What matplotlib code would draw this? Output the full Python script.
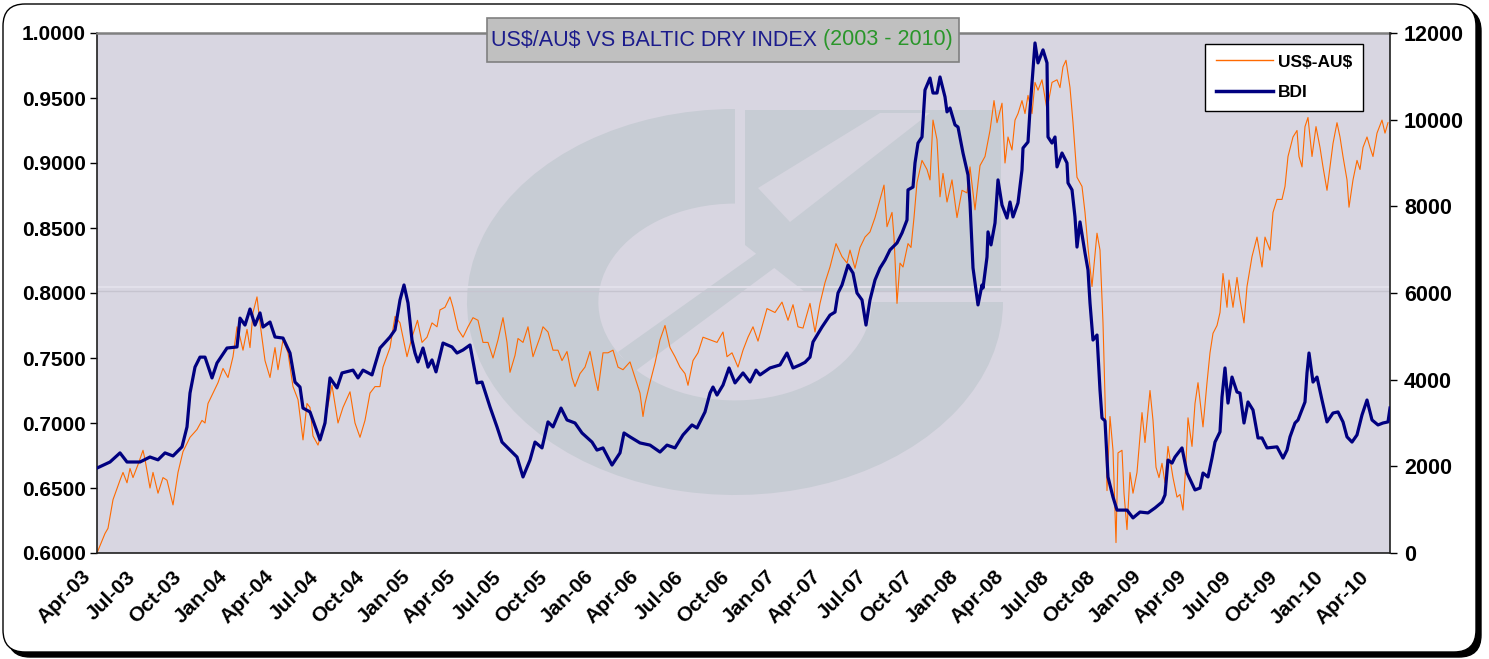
"""
US$/AU$ against the Baltic Dry Index, Apr 2003 - Apr 2010.

Dual-axis line chart: exchange rate on the left axis, BDI on the right.
Writes out.png (1489x659).
"""
import matplotlib

matplotlib.use("Agg")
import matplotlib.pyplot as plt  # noqa: E402
import matplotlib.dates as mdates  # noqa: E402
import pandas as pd  # noqa: E402
from matplotlib.lines import Line2D  # noqa: E402
from matplotlib.patches import FancyBboxPatch, Polygon, Rectangle, Wedge  # noqa: E402
from matplotlib.ticker import FixedLocator, FuncFormatter  # noqa: E402
from matplotlib.transforms import Affine2D, IdentityTransform, ScaledTranslation  # noqa: E402

# ---------------------------------------------------------------- data
BDI_DATES = [
    "2003-04-01", "2003-04-27", "2003-05-17", "2003-05-31", "2003-06-26", "2003-07-16",
    "2003-08-01", "2003-08-15", "2003-08-31", "2003-09-18", "2003-09-28", "2003-10-04",
    "2003-10-14", "2003-10-24", "2003-11-03", "2003-11-17", "2003-11-27", "2003-12-17",
    "2004-01-06", "2004-01-12", "2004-01-22", "2004-02-01", "2004-02-11", "2004-02-21",
    "2004-02-27", "2004-03-12", "2004-03-22", "2004-04-07", "2004-04-21", "2004-05-01",
    "2004-05-11", "2004-05-17", "2004-05-31", "2004-06-20", "2004-06-30", "2004-07-10",
    "2004-07-24", "2004-08-03", "2004-08-25", "2004-09-04", "2004-09-14", "2004-10-02",
    "2004-10-18", "2004-11-07", "2004-11-17", "2004-11-27", "2004-12-05", "2004-12-13",
    "2004-12-21", "2004-12-27", "2005-01-02", "2005-01-12", "2005-01-22", "2005-01-30",
    "2005-02-07", "2005-02-21", "2005-03-11", "2005-03-21", "2005-04-02", "2005-04-16",
    "2005-04-30", "2005-05-10", "2005-05-26", "2005-06-09", "2005-06-19", "2005-07-05",
    "2005-07-19", "2005-07-31", "2005-08-14", "2005-08-24", "2005-09-07", "2005-09-19",
    "2005-09-29", "2005-10-15", "2005-10-27", "2005-11-12", "2005-11-26", "2005-12-16",
    "2005-12-26", "2006-01-07", "2006-01-25", "2006-02-10", "2006-02-18", "2006-03-02",
    "2006-03-22", "2006-04-11", "2006-05-01", "2006-05-15", "2006-05-31", "2006-06-16",
    "2006-07-04", "2006-07-14", "2006-07-30", "2006-08-09", "2006-08-15", "2006-08-23",
    "2006-09-04", "2006-09-16", "2006-09-28", "2006-10-14", "2006-10-28", "2006-11-09",
    "2006-11-17", "2006-12-07", "2006-12-27", "2007-01-10", "2007-01-22", "2007-02-05",
    "2007-02-15", "2007-02-25", "2007-03-03", "2007-03-21", "2007-04-06", "2007-04-16",
    "2007-04-22", "2007-04-30", "2007-05-12", "2007-05-22", "2007-05-30", "2007-06-09",
    "2007-06-17", "2007-06-25", "2007-07-05", "2007-07-15", "2007-07-25", "2007-08-04",
    "2007-08-18", "2007-08-28", "2007-09-07", "2007-09-09", "2007-09-19", "2007-09-23",
    "2007-09-29", "2007-10-07", "2007-10-13", "2007-10-23", "2007-10-29", "2007-11-06",
    "2007-11-12", "2007-11-22", "2007-11-26", "2007-12-02", "2007-12-12", "2007-12-18",
    "2007-12-28", "2008-01-07", "2008-01-11", "2008-01-17", "2008-01-27", "2008-02-04",
    "2008-02-06", "2008-02-14", "2008-02-16", "2008-02-22", "2008-03-01", "2008-03-07",
    "2008-03-15", "2008-03-25", "2008-03-31", "2008-04-06", "2008-04-16", "2008-04-24",
    "2008-04-26", "2008-05-06", "2008-05-10", "2008-05-16", "2008-05-20", "2008-05-26",
    "2008-06-05", "2008-06-13", "2008-06-15", "2008-06-23", "2008-06-29", "2008-07-03",
    "2008-07-13", "2008-07-23", "2008-07-25", "2008-08-02", "2008-08-08", "2008-08-12",
    "2008-08-18", "2008-08-28", "2008-09-03", "2008-09-07", "2008-09-13", "2008-09-21",
    "2008-09-27", "2008-10-01", "2008-10-07", "2008-10-13", "2008-10-23", "2008-10-31",
    "2008-11-20", "2008-12-02", "2008-12-16", "2009-01-01", "2009-01-15", "2009-01-29",
    "2009-02-04", "2009-02-10", "2009-02-18", "2009-02-24", "2009-03-10", "2009-03-20",
    "2009-04-05", "2009-04-15", "2009-04-21", "2009-05-01", "2009-05-09", "2009-05-15",
    "2009-05-25", "2009-05-29", "2009-06-04", "2009-06-10", "2009-06-18", "2009-06-28",
    "2009-07-04", "2009-07-12", "2009-07-20", "2009-07-30", "2009-08-09", "2009-08-17",
    "2009-08-27", "2009-09-16", "2009-09-28", "2009-10-06", "2009-10-12", "2009-10-22",
    "2009-10-28", "2009-11-11", "2009-11-15", "2009-11-19", "2009-11-27", "2009-12-05",
    "2009-12-15", "2009-12-25", "2010-01-06", "2010-01-16", "2010-01-26", "2010-02-03",
    "2010-02-13", "2010-02-23", "2010-03-05", "2010-03-15", "2010-03-25", "2010-04-06",
    "2010-04-16", "2010-04-26", "2010-04-30",
]
BDI_VALUES = [
    1960, 2100, 2310, 2100, 2100, 2215,
    2150, 2310, 2240, 2450, 2910, 3690,
    4290, 4520, 4520, 4040, 4385, 4730,
    4755, 5420, 5260, 5630, 5260, 5540,
    5215, 5330, 4985, 4960, 4615, 3945,
    3830, 3345, 3255, 2610, 3000, 4040,
    3810, 4155, 4220, 4040, 4220, 4110,
    4730, 4985, 5150, 5840, 6185, 5770,
    4915, 4615, 4410, 4730, 4290, 4455,
    4180, 4845, 4755, 4615, 4685, 4800,
    3925, 3945, 3370, 2910, 2560, 2375,
    2215, 1755, 2145, 2560, 2425, 3025,
    2910, 3345, 3070, 3000, 2770, 2560,
    2375, 2425, 2030, 2310, 2770, 2680,
    2540, 2490, 2330, 2490, 2425, 2725,
    2955, 2885, 3255, 3690, 3830, 3645,
    3875, 4270, 3925, 4155, 3945, 4220,
    4110, 4270, 4340, 4615, 4270, 4340,
    4400, 4520, 4870, 5215, 5490, 5560,
    6000, 6185, 6645, 6460, 6000, 5840,
    5260, 5840, 6300, 6575, 6760, 6995,
    7155, 7385, 7685, 8380, 8445, 9000,
    9460, 9600, 10685, 10960, 10615, 10615,
    10985, 10525, 10180, 10270, 9880, 9830,
    9230, 8725, 8080, 6580, 5725, 6185,
    6115, 6830, 7410, 7110, 7615, 8610,
    8030, 7730, 8100, 7755, 8080, 8840,
    9345, 9485, 10225, 11150, 11770, 11310,
    11610, 11310, 9600, 9460, 9600, 8910,
    9230, 9000, 8540, 8380, 7755, 7060,
    7640, 6925, 6530, 5770, 4915, 5030,
    3760, 3115, 3050, 1755, 1290, 990,
    990, 810, 945, 925, 1040, 1175,
    1340, 2145, 2075, 2215, 2425, 1850,
    1455, 1500, 1845, 1755, 2190, 2560,
    2795, 3600, 4270, 3460, 4060, 3715,
    3690, 3000, 3485, 3300, 2655, 2655,
    2425, 2450, 2190, 2375, 2680, 3000,
    3070, 3485, 4155, 4615, 3945, 4060,
    3530, 3025, 3230, 3255, 3025, 2680,
    2560, 2725, 3185, 3530, 3070, 2955,
    3000, 3025, 3345,
]

AUD_DATES = [
    "2003-04-01", "2003-04-17", "2003-04-23", "2003-05-03", "2003-05-17", "2003-05-23",
    "2003-05-31", "2003-06-06", "2003-06-12", "2003-06-22", "2003-07-02", "2003-07-06",
    "2003-07-16", "2003-07-22", "2003-08-01", "2003-08-11", "2003-08-19", "2003-08-31",
    "2003-09-10", "2003-09-20", "2003-10-04", "2003-10-18", "2003-10-28", "2003-11-03",
    "2003-11-09", "2003-11-19", "2003-11-29", "2003-12-09", "2003-12-19", "2003-12-29",
    "2004-01-06", "2004-01-12", "2004-01-18", "2004-01-26", "2004-02-01", "2004-02-07",
    "2004-02-15", "2004-02-21", "2004-03-02", "2004-03-12", "2004-03-22", "2004-03-28",
    "2004-04-07", "2004-04-17", "2004-04-27", "2004-05-07", "2004-05-17", "2004-05-25",
    "2004-05-31", "2004-06-06", "2004-06-16", "2004-06-30", "2004-07-14", "2004-07-26",
    "2004-08-05", "2004-08-19", "2004-08-29", "2004-09-08", "2004-09-18", "2004-09-28",
    "2004-10-08", "2004-10-18", "2004-10-24", "2004-11-07", "2004-11-17", "2004-11-27",
    "2004-12-11", "2004-12-21", "2005-01-01", "2005-01-10", "2005-01-20", "2005-01-30",
    "2005-02-09", "2005-02-15", "2005-02-25", "2005-03-07", "2005-03-13", "2005-03-23",
    "2005-04-02", "2005-04-12", "2005-04-22", "2005-05-02", "2005-05-12", "2005-05-22",
    "2005-06-01", "2005-06-11", "2005-06-21", "2005-06-29", "2005-07-05", "2005-07-15",
    "2005-07-21", "2005-07-31", "2005-08-10", "2005-08-20", "2005-09-03", "2005-09-09",
    "2005-09-19", "2005-09-29", "2005-10-09", "2005-10-17", "2005-10-27", "2005-11-06",
    "2005-11-12", "2005-11-22", "2005-12-02", "2005-12-12", "2005-12-22", "2005-12-28",
    "2006-01-07", "2006-01-17", "2006-01-27", "2006-02-06", "2006-02-16", "2006-03-02",
    "2006-03-12", "2006-03-22", "2006-03-28", "2006-04-01", "2006-04-11", "2006-04-21",
    "2006-05-01", "2006-05-11", "2006-05-21", "2006-05-31", "2006-06-10", "2006-06-20",
    "2006-06-26", "2006-07-06", "2006-07-16", "2006-07-26", "2006-08-09", "2006-08-23",
    "2006-09-04", "2006-09-12", "2006-09-22", "2006-10-04", "2006-10-14", "2006-10-24",
    "2006-11-03", "2006-11-13", "2006-12-01", "2006-12-17", "2006-12-31", "2007-01-12",
    "2007-01-22", "2007-02-01", "2007-02-11", "2007-02-25", "2007-03-07", "2007-03-17",
    "2007-03-27", "2007-04-06", "2007-04-18", "2007-04-30", "2007-05-10", "2007-05-16",
    "2007-05-26", "2007-06-05", "2007-06-15", "2007-06-25", "2007-07-05", "2007-07-15",
    "2007-07-23", "2007-07-29", "2007-08-08", "2007-08-12", "2007-08-18", "2007-08-24",
    "2007-08-30", "2007-09-09", "2007-09-15", "2007-09-21", "2007-09-27", "2007-10-07",
    "2007-10-17", "2007-10-23", "2007-10-29", "2007-11-06", "2007-11-12", "2007-11-18",
    "2007-11-26", "2007-12-06", "2007-12-16", "2007-12-26", "2008-01-05", "2008-01-11",
    "2008-01-21", "2008-01-31", "2008-02-10", "2008-02-20", "2008-02-28", "2008-03-05",
    "2008-03-15", "2008-03-21", "2008-03-27", "2008-04-04", "2008-04-10", "2008-04-16",
    "2008-04-24", "2008-04-30", "2008-05-06", "2008-05-14", "2008-05-20", "2008-05-26",
    "2008-06-03", "2008-06-13", "2008-06-23", "2008-07-03", "2008-07-09", "2008-07-15",
    "2008-07-21", "2008-07-29", "2008-08-04", "2008-08-12", "2008-08-22", "2008-08-28",
    "2008-09-03", "2008-09-11", "2008-09-21", "2008-09-27", "2008-10-03", "2008-10-07",
    "2008-10-11", "2008-10-17", "2008-10-23", "2008-10-29", "2008-11-02", "2008-11-10",
    "2008-11-14", "2008-11-20", "2008-11-26", "2008-12-02", "2008-12-10", "2008-12-20",
    "2008-12-26", "2009-01-05", "2009-01-11", "2009-01-17", "2009-01-23", "2009-01-29",
    "2009-02-04", "2009-02-10", "2009-02-20", "2009-02-28", "2009-03-06", "2009-03-12",
    "2009-03-18", "2009-03-22", "2009-03-30", "2009-04-05", "2009-04-11", "2009-04-21",
    "2009-04-29", "2009-05-05", "2009-05-11", "2009-05-19", "2009-05-25", "2009-05-31",
    "2009-06-08", "2009-06-12", "2009-06-20", "2009-06-28", "2009-07-04", "2009-07-12",
    "2009-07-18", "2009-07-28", "2009-08-07", "2009-08-17", "2009-08-23", "2009-09-02",
    "2009-09-08", "2009-09-16", "2009-09-26", "2009-10-02", "2009-10-08", "2009-10-18",
    "2009-10-26", "2009-10-30", "2009-11-05", "2009-11-11", "2009-11-17", "2009-11-25",
    "2009-12-03", "2009-12-11", "2009-12-17", "2009-12-25", "2009-12-31", "2010-01-06",
    "2010-01-14", "2010-01-20", "2010-01-26", "2010-02-03", "2010-02-07", "2010-02-15",
    "2010-02-23", "2010-03-01", "2010-03-07", "2010-03-15", "2010-03-21", "2010-03-27",
    "2010-04-04", "2010-04-14", "2010-04-20", "2010-04-26",
]
AUD_VALUES = [
    0.600, 0.615, 0.619, 0.641, 0.656, 0.662,
    0.654, 0.665, 0.658, 0.668, 0.679, 0.672,
    0.650, 0.662, 0.646, 0.658, 0.656, 0.637,
    0.662, 0.678, 0.689, 0.695, 0.702, 0.700,
    0.715, 0.723, 0.731, 0.742, 0.735, 0.751,
    0.774, 0.766, 0.756, 0.772, 0.758, 0.785,
    0.797, 0.777, 0.748, 0.735, 0.758, 0.741,
    0.764, 0.754, 0.728, 0.718, 0.687, 0.715,
    0.712, 0.690, 0.683, 0.702, 0.729, 0.700,
    0.712, 0.724, 0.700, 0.689, 0.702, 0.723,
    0.728, 0.728, 0.743, 0.758, 0.782, 0.777,
    0.751, 0.766, 0.779, 0.762, 0.766, 0.777,
    0.774, 0.787, 0.789, 0.797, 0.789, 0.772,
    0.766, 0.774, 0.781, 0.779, 0.762, 0.762,
    0.750, 0.764, 0.781, 0.762, 0.739, 0.752,
    0.765, 0.762, 0.774, 0.751, 0.766, 0.774,
    0.770, 0.756, 0.756, 0.748, 0.755, 0.735,
    0.728, 0.738, 0.743, 0.755, 0.735, 0.725,
    0.754, 0.754, 0.756, 0.743, 0.741, 0.747,
    0.735, 0.723, 0.705, 0.715, 0.731, 0.746,
    0.764, 0.775, 0.758, 0.751, 0.743, 0.738,
    0.729, 0.748, 0.754, 0.766, 0.764, 0.762,
    0.770, 0.751, 0.754, 0.743, 0.756, 0.766,
    0.774, 0.763, 0.788, 0.785, 0.793, 0.779,
    0.791, 0.774, 0.773, 0.792, 0.770, 0.792,
    0.808, 0.820, 0.838, 0.828, 0.823, 0.833,
    0.819, 0.835, 0.843, 0.847, 0.858, 0.872,
    0.883, 0.851, 0.862, 0.843, 0.792, 0.823,
    0.820, 0.838, 0.835, 0.858, 0.885, 0.902,
    0.895, 0.887, 0.933, 0.918, 0.874, 0.892,
    0.870, 0.887, 0.858, 0.879, 0.877, 0.897,
    0.864, 0.898, 0.905, 0.925, 0.948, 0.931,
    0.946, 0.900, 0.920, 0.910, 0.933, 0.938,
    0.948, 0.938, 0.952, 0.938, 0.962, 0.956,
    0.964, 0.941, 0.962, 0.964, 0.958, 0.974,
    0.979, 0.958, 0.931, 0.889, 0.882, 0.862,
    0.835, 0.805, 0.846, 0.833, 0.777, 0.720,
    0.648, 0.705, 0.679, 0.608, 0.677, 0.679,
    0.646, 0.618, 0.662, 0.646, 0.662, 0.708,
    0.685, 0.725, 0.702, 0.666, 0.658, 0.669,
    0.654, 0.682, 0.658, 0.643, 0.645, 0.633,
    0.670, 0.704, 0.682, 0.715, 0.731, 0.697,
    0.731, 0.754, 0.769, 0.775, 0.785, 0.815,
    0.789, 0.810, 0.789, 0.812, 0.795, 0.777,
    0.805, 0.828, 0.843, 0.820, 0.843, 0.833,
    0.862, 0.872, 0.872, 0.882, 0.905, 0.920,
    0.925, 0.905, 0.897, 0.928, 0.935, 0.905,
    0.928, 0.912, 0.897, 0.879, 0.897, 0.915,
    0.931, 0.920, 0.905, 0.887, 0.866, 0.887,
    0.902, 0.895, 0.912, 0.920, 0.912, 0.905,
    0.923, 0.933, 0.923, 0.931,
]

X_START, X_END = "2003-04-01", "2010-04-30"
TICK_DATES = pd.date_range("2003-04-01", "2010-04-01", freq="3MS")
LEFT_TICKS = [0.60, 0.65, 0.70, 0.75, 0.80, 0.85, 0.90, 0.95, 1.00]
RIGHT_TICKS = [0, 2000, 4000, 6000, 8000, 10000, 12000]

TITLE_MAIN = "US$/AU$ VS BALTIC DRY INDEX"
TITLE_YEARS = "(2003 - 2010)"
LABEL_AUD = "US$-AU$"
LABEL_BDI = "BDI"

ORANGE = "#FF6A00"
NAVY = "#000080"
PLOT_BG = "#D8D6E1"
MARK = "#C7CCD4"

W, H = 1489, 659
AX_L, AX_R, AX_T, AX_B = 97, 1390, 33, 553


def _frac(px, py):
    """pixel position (origin top-left) -> axes fraction."""
    return ((px - AX_L) / (AX_R - AX_L), (AX_B - py) / (AX_B - AX_T))


def draw_frame(fig):
    shadow = FancyBboxPatch((8, 2), 1473, 648, boxstyle="round,pad=0,rounding_size=22",
                            transform=IdentityTransform(), facecolor="black",
                            edgecolor="black", zorder=-10)
    frame = FancyBboxPatch((3, 7), 1473, 648, boxstyle="round,pad=0,rounding_size=22",
                           transform=IdentityTransform(), facecolor="white",
                           edgecolor="black", lw=1.0, zorder=-9)
    fig.add_artist(shadow)
    fig.add_artist(frame)


def draw_watermark(ax):
    # faded logo behind the series: elliptic ring + block + diagonal bar
    cx, cy = _frac(735, 302)
    rx = 268 / (AX_R - AX_L)
    ry = 193 / (AX_B - AX_T)
    tr = Affine2D().scale(rx, ry).translate(cx, cy) + ax.transAxes
    ax.add_patch(Wedge((0, 0), 1.0, 90, 360, width=0.49, transform=tr,
                       facecolor=MARK, edgecolor="none", zorder=0.5))
    block = [_frac(745, 110), _frac(1001, 110), _frac(1001, 292),
             _frac(805, 292), _frac(745, 245)]
    ax.add_patch(Polygon(block, closed=True, transform=ax.transAxes,
                         facecolor=MARK, edgecolor="none", zorder=0.5))
    band = [_frac(758, 188), _frac(790, 222), _frac(930, 113), _frac(880, 113)]
    ax.add_patch(Polygon(band, closed=True, transform=ax.transAxes,
                         facecolor="#D6D5DF", edgecolor="none", zorder=0.6))
    bar = [_frac(618, 352), _frac(634, 372), _frac(812, 240), _frac(798, 224)]
    ax.add_patch(Polygon(bar, closed=True, transform=ax.transAxes,
                         facecolor=MARK, edgecolor="none", zorder=0.6))
    y1 = _frac(0, 287)[1]
    y2 = _frac(0, 291)[1]
    ax.plot([0, 1], [y1, y1], transform=ax.transAxes, color="#E2E0EA", lw=1.5, zorder=0.7)
    ax.plot([0, 1], [y2, y2], transform=ax.transAxes, color="#C6C4CF", lw=1.0, zorder=0.7)


def main():
    plt.rcParams["font.family"] = ["Liberation Sans", "DejaVu Sans"]
    plt.rcParams["text.parse_math"] = False
    fig = plt.figure(figsize=(W / 100, H / 100), dpi=100, facecolor="white")
    draw_frame(fig)

    ax = fig.add_axes([AX_L / W, (H - AX_B) / H, (AX_R - AX_L) / W, (AX_B - AX_T) / H])
    ax.set_facecolor(PLOT_BG)
    draw_watermark(ax)

    aud_t = pd.to_datetime(AUD_DATES)
    bdi_t = pd.to_datetime(BDI_DATES)
    ax.plot(aud_t, AUD_VALUES, color=ORANGE, lw=0.8, zorder=2)

    ax2 = ax.twinx()
    ax2.plot(bdi_t, BDI_VALUES, color=NAVY, lw=2.3, zorder=3)

    ax.set_xlim(pd.Timestamp(X_START), pd.Timestamp(X_END))
    ax.set_ylim(LEFT_TICKS[0], LEFT_TICKS[-1])
    ax2.set_ylim(RIGHT_TICKS[0], RIGHT_TICKS[-1])

    ax.yaxis.set_major_locator(FixedLocator(LEFT_TICKS))
    ax.yaxis.set_major_formatter(FuncFormatter(lambda v, _: f"{v:.4f}"))
    ax2.yaxis.set_major_locator(FixedLocator(RIGHT_TICKS))
    ax2.yaxis.set_major_formatter(FuncFormatter(lambda v, _: f"{v:.0f}"))

    ax.xaxis.set_major_locator(FixedLocator(mdates.date2num(TICK_DATES)))
    ax.xaxis.set_major_formatter(mdates.DateFormatter("%b-%y"))

    ax.tick_params(axis="y", length=5, width=1, pad=3, labelsize=15)
    ax2.tick_params(axis="y", length=5, width=1, pad=5, labelsize=15.5)
    ax.tick_params(axis="x", length=0, pad=15, labelsize=15)
    shift = ScaledTranslation(-7 / 72, 0, fig.dpi_scale_trans)
    for lab in ax.get_xticklabels():
        lab.set_rotation(45)
        lab.set_rotation_mode("anchor")
        lab.set_ha("right")
        lab.set_va("center")
        lab.set_transform(lab.get_transform() + shift)
    for lab in ax.get_xticklabels() + ax.get_yticklabels() + ax2.get_yticklabels():
        lab.set_fontweight("bold")

    for side in ("left", "bottom"):
        ax.spines[side].set_color("#202020")
        ax.spines[side].set_linewidth(1.2)
    ax.spines["top"].set_color("#808080")
    ax.spines["top"].set_linewidth(1.8)
    ax.spines["right"].set_visible(False)
    for side in ("left", "top", "bottom"):
        ax2.spines[side].set_visible(False)
    ax2.spines["right"].set_color("#202020")
    ax2.spines["right"].set_linewidth(1.2)

    # title box with the two-coloured title
    box = Rectangle((487 / W, 1 - 62 / H), (959 - 487) / W, (62 - 18) / H,
                    transform=fig.transFigure, facecolor="#C0C0C0",
                    edgecolor="#808080", lw=1.2, zorder=5)
    fig.add_artist(box)
    t1 = fig.text(491 / W, 1 - 40 / H, TITLE_MAIN + " ", color="#1C1C8C", fontsize=15.5,
                  ha="left", va="center", zorder=6)
    fig.canvas.draw()
    ext = t1.get_window_extent()
    fig.text(ext.x1 / W, 1 - 40 / H, TITLE_YEARS, color="#2A962A", fontsize=15.5,
             ha="left", va="center", zorder=6)

    handles = [Line2D([], [], color=ORANGE, lw=1.0),
               Line2D([], [], color=NAVY, lw=2.5)]
    leg = ax2.legend(handles, [LABEL_AUD, LABEL_BDI], loc="upper right",
                     bbox_to_anchor=(1363 / W, 1 - 44 / H), bbox_transform=fig.transFigure,
                     frameon=True, fancybox=False, framealpha=1, edgecolor="black",
                     prop={"weight": "bold", "size": 12.5}, handlelength=3.3,
                     handletextpad=0.3, labelspacing=0.9, borderpad=0.6, borderaxespad=0)
    leg.get_frame().set_linewidth(1.0)

    fig.savefig("out.png", dpi=100, facecolor="white")
    print("saved out.png")


if __name__ == "__main__":
    main()
